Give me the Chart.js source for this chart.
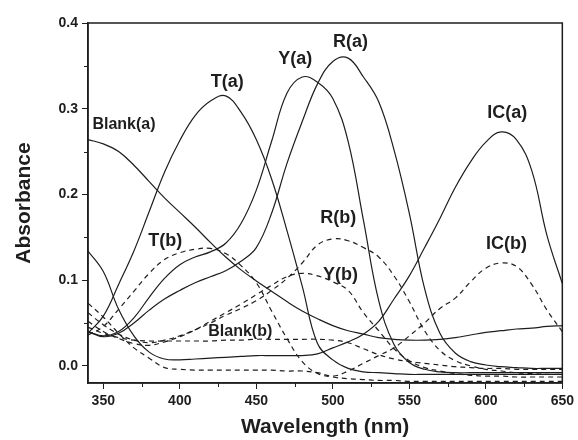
<!DOCTYPE html>
<html>
<head>
<meta charset="utf-8">
<script src="https://cdn.jsdelivr.net/npm/chart.js@4.4.1/dist/chart.umd.min.js"></script>
<style>
  html, body { margin: 0; padding: 0; background: #fff; }
</style>
</head>
<body>
<canvas id="chart" width="578" height="440"></canvas>
<script>
// wavelength grid (nm)
const wavelengths = [340, 350, 360, 370, 380, 390, 400, 410, 420, 430, 440, 450, 460, 470, 480, 490,
                     500, 510, 520, 530, 540, 550, 560, 570, 580, 590, 600, 610, 620, 630, 640, 650];

// solid curves (a)
const blankA = [0.264, 0.259, 0.250, 0.234, 0.215, 0.196, 0.179, 0.162, 0.144, 0.127, 0.112, 0.099, 0.087, 0.075, 0.064, 0.055,
                0.047, 0.041, 0.037, 0.033, 0.031, 0.030, 0.030, 0.031, 0.033, 0.036, 0.039, 0.041, 0.043, 0.044, 0.046, 0.047];
const tA = [0.038, 0.058, 0.095, 0.134, 0.180, 0.226, 0.263, 0.292, 0.309, 0.315, 0.296, 0.264, 0.218, 0.158, 0.093, 0.026,
            0.007, -0.003, -0.007, -0.008, -0.009, -0.010, -0.010, -0.010, -0.010, -0.010, -0.010, -0.010, -0.010, -0.010, -0.010, -0.010];
const yA = [0.040, 0.035, 0.040, 0.056, 0.080, 0.102, 0.118, 0.127, 0.133, 0.143, 0.166, 0.205, 0.262, 0.318, 0.337, 0.331,
            0.312, 0.262, 0.170, 0.076, 0.025, 0.004, -0.004, -0.007, -0.008, -0.008, -0.008, -0.008, -0.008, -0.008, -0.008, -0.008];
const rA = [0.040, 0.034, 0.038, 0.050, 0.065, 0.078, 0.088, 0.097, 0.104, 0.111, 0.122, 0.138, 0.178, 0.236, 0.285, 0.329,
            0.355, 0.359, 0.337, 0.308, 0.252, 0.178, 0.090, 0.038, 0.015, 0.005, 0.001, -0.001, -0.002, -0.003, -0.003, -0.003];
const icA = [0.134, 0.110, 0.066, 0.035, 0.016, 0.008, 0.007, 0.008, 0.009, 0.010, 0.011, 0.012, 0.012, 0.012, 0.012, 0.014,
             0.021, 0.028, 0.037, 0.052, 0.078, 0.105, 0.138, 0.172, 0.208, 0.238, 0.261, 0.273, 0.264, 0.228, 0.152, 0.096];

// dashed curves (b)
const blankB = [0.045, 0.038, 0.033, 0.030, 0.029, 0.029, 0.029, 0.029, 0.029, 0.030, 0.030, 0.031, 0.031, 0.031, 0.031, 0.031,
                0.030, 0.027, 0.020, 0.013, 0.008, 0.005, 0.003, 0.001, -0.001, -0.002, -0.003, -0.003, -0.004, -0.004, -0.004, -0.004];
const tB = [0.036, 0.046, 0.066, 0.087, 0.108, 0.124, 0.132, 0.136, 0.137, 0.131, 0.117, 0.097, 0.064, 0.032, 0.005, -0.009,
            -0.013, -0.015, -0.016, -0.017, -0.017, -0.018, -0.018, -0.018, -0.018, -0.018, -0.018, -0.018, -0.018, -0.018, -0.018, -0.018];
const yB = [0.052, 0.040, 0.032, 0.026, 0.024, 0.028, 0.034, 0.042, 0.052, 0.062, 0.072, 0.083, 0.094, 0.104, 0.108, 0.105,
            0.098, 0.088, 0.062, 0.041, 0.020, 0.006, -0.002, -0.006, -0.009, -0.011, -0.012, -0.012, -0.013, -0.013, -0.013, -0.013];
const rB = [0.062, 0.048, 0.037, 0.030, 0.027, 0.030, 0.035, 0.042, 0.050, 0.059, 0.067, 0.076, 0.088, 0.102, 0.120, 0.141,
            0.148, 0.146, 0.138, 0.127, 0.105, 0.075, 0.041, 0.018, 0.006, 0.000, -0.004, -0.006, -0.008, -0.009, -0.010, -0.010];
const icB = [0.073, 0.057, 0.038, 0.021, 0.009, -0.002, -0.004, -0.005, -0.005, -0.005, -0.005, -0.005, -0.005, -0.006, -0.006, -0.008,
             -0.012, -0.006, 0.003, 0.012, 0.021, 0.035, 0.050, 0.067, 0.079, 0.098, 0.114, 0.120, 0.116, 0.095, 0.065, 0.040];

const xTicks = [350, 400, 450, 500, 550, 600, 650];
const xMinorTicks = [375, 425, 475, 525, 575, 625];
const yTicks = [0.0, 0.1, 0.2, 0.3, 0.4];
const yMinorTicks = [0.05, 0.15, 0.25, 0.35];

// curve labels, placed in data units
const curveLabels = [
    { text: "Blank(a)", x: 363.5, y: 0.281, size: 16 },
    { text: "T(a)", x: 431, y: 0.331, size: 18 },
    { text: "Y(a)", x: 475.5, y: 0.358, size: 18 },
    { text: "R(a)", x: 511.5, y: 0.378, size: 18 },
    { text: "IC(a)", x: 614, y: 0.295, size: 18 },
    { text: "T(b)", x: 390.5, y: 0.146, size: 18 },
    { text: "R(b)", x: 503.5, y: 0.172, size: 18 },
    { text: "Y(b)", x: 505, y: 0.106, size: 18 },
    { text: "IC(b)", x: 613.5, y: 0.142, size: 18 },
    { text: "Blank(b)", x: 439.5, y: 0.040, size: 16 },
];

const ink = "#1e1e1e";
const fontFamily = "'Liberation Sans', Arial, sans-serif";
Chart.defaults.font.family = fontFamily;
Chart.defaults.color = ink;

function series(values, dashed) {
    return {
        data: wavelengths.map((w, i) => ({ x: w, y: values[i] })),
        borderColor: ink,
        borderWidth: 1.2,
        borderDash: dashed ? [5, 4] : [],
        pointRadius: 0,
        fill: false,
        tension: 0.4,
    };
}

const decor = {
    id: "decor",
    afterDraw(chart) {
        const { ctx, chartArea: a, scales: { x, y } } = chart;
        ctx.save();
        ctx.strokeStyle = ink;
        ctx.lineWidth = 1.5;
        ctx.strokeRect(a.left, a.top, a.right - a.left, a.bottom - a.top);

        // minor ticks
        ctx.lineWidth = 1;
        ctx.beginPath();
        xMinorTicks.forEach((v) => {
            const px = Math.round(x.getPixelForValue(v)) + 0.5;
            ctx.moveTo(px, a.bottom);
            ctx.lineTo(px, a.bottom + 4);
        });
        yMinorTicks.forEach((v) => {
            const py = Math.round(y.getPixelForValue(v)) + 0.5;
            ctx.moveTo(a.left, py);
            ctx.lineTo(a.left - 4, py);
        });
        ctx.stroke();

        // curve labels
        ctx.fillStyle = ink;
        ctx.textAlign = "center";
        ctx.textBaseline = "middle";
        curveLabels.forEach((l) => {
            ctx.font = `bold ${l.size}px ${fontFamily}`;
            ctx.fillText(l.text, x.getPixelForValue(l.x), y.getPixelForValue(l.y));
        });
        ctx.restore();
    },
};

new Chart(document.getElementById("chart"), {
    type: "line",
    data: {
        datasets: [
            series(blankA, false), series(tA, false), series(yA, false), series(rA, false), series(icA, false),
            series(blankB, true), series(tB, true), series(yB, true), series(rB, true), series(icB, true),
        ],
    },
    options: {
        responsive: false,
        animation: false,
        layout: { padding: { top: 23, right: 13, left: 0, bottom: 0 } },
        plugins: { legend: { display: false }, tooltip: { enabled: false } },
        scales: {
            x: {
                type: "linear",
                min: 340,
                max: 650,
                afterBuildTicks: (scale) => { scale.ticks = xTicks.map((v) => ({ value: v })); },
                afterFit: (scale) => { scale.height = 57; },
                grid: { display: true, drawOnChartArea: false, drawTicks: true, tickLength: 6, color: ink },
                border: { display: true, color: ink, width: 1.5 },
                ticks: { padding: 4, font: { size: 14, weight: "bold" }, color: ink, callback: (v) => v },
                title: { display: true, text: "Wavelength (nm)", font: { size: 21, weight: "bold" }, color: ink, padding: { top: 0, bottom: 0 } },
            },
            y: {
                type: "linear",
                min: -0.02,
                max: 0.4,
                afterBuildTicks: (scale) => { scale.ticks = yTicks.map((v) => ({ value: v })); },
                afterFit: (scale) => { scale.width = 88; },
                grid: { display: true, drawOnChartArea: false, drawTicks: true, tickLength: 6, color: ink },
                border: { display: true, color: ink, width: 1.5 },
                ticks: { padding: 4, font: { size: 14, weight: "bold" }, color: ink, callback: (v) => v.toFixed(1) },
                title: { display: true, text: "Absorbance", font: { size: 21, weight: "bold" }, color: ink, padding: { top: 12, bottom: 0 } },
            },
        },
    },
    plugins: [decor],
});
</script>
</body>
</html>
